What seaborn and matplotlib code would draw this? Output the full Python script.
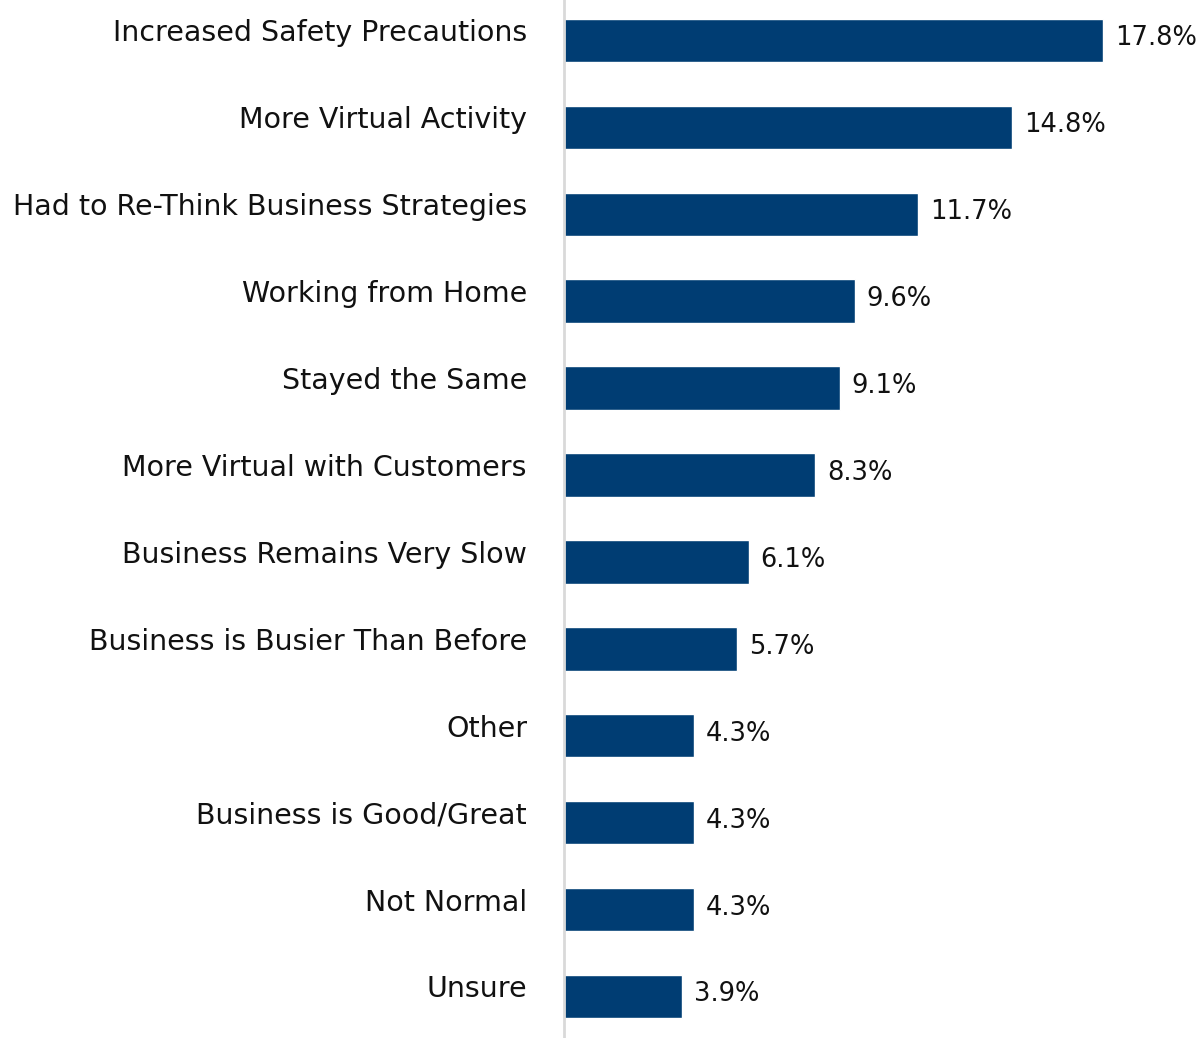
import matplotlib
matplotlib.use("Agg")
import matplotlib.pyplot as plt
import matplotlib.transforms as mtransforms
import seaborn as sns
import pandas as pd

categories = [
    "Increased Safety Precautions",
    "More Virtual Activity",
    "Had to Re-Think Business Strategies",
    "Working from Home",
    "Stayed the Same",
    "More Virtual with Customers",
    "Business Remains Very Slow",
    "Business is Busier Than Before",
    "Other",
    "Business is Good/Great",
    "Not Normal",
    "Unsure",
]
values = [17.8, 14.8, 11.7, 9.6, 9.1, 8.3, 6.1, 5.7, 4.3, 4.3, 4.3, 3.9]
value_labels = ["17.8%", "14.8%", "11.7%", "9.6%", "9.1%", "8.3%",
                "6.1%", "5.7%", "4.3%", "4.3%", "4.3%", "3.9%"]

df = pd.DataFrame({"category": categories, "value": values})

sns.set_theme(style="white")
plt.rcParams["font.family"] = ["DejaVu Sans"]

fig = plt.figure(figsize=(12, 10.38), dpi=100)
ax = fig.add_axes([564 / 1200, 0, 1 - 564 / 1200, 1])

bar_color = "#003d73"
sns.barplot(data=df, y="category", x="value", orient="h", color=bar_color,
            width=0.5, saturation=1, ax=ax)

ax.set_xlim(0, 21.0)
ax.set_ylim(11.478, -0.466)
ax.set_xlabel("")
ax.set_ylabel("")
ax.set_xticks([])
ax.set_yticks([])
for side in ["top", "right", "bottom"]:
    ax.spines[side].set_visible(False)
ax.spines["left"].set_color("#d9d9d9")
ax.spines["left"].set_linewidth(2)

# Category names, right-aligned to the left of the axis line
lab_tf = mtransforms.blended_transform_factory(ax.transAxes, ax.transData) + \
    mtransforms.ScaledTranslation(-37 / 100, 7 / 100, fig.dpi_scale_trans)
for i, name in enumerate(categories):
    ax.text(0, i, name, transform=lab_tf, ha="right", va="center",
            fontsize=20.5, color="#111111")

# Value labels just past each bar end
val_tf = ax.transData + mtransforms.ScaledTranslation(12 / 100, 2 / 100, fig.dpi_scale_trans)
for i, (v, s) in enumerate(zip(values, value_labels)):
    ax.text(v, i, s, transform=val_tf, ha="left", va="center",
            fontsize=18.5, color="#111111")

fig.savefig("out.png", dpi=100)
